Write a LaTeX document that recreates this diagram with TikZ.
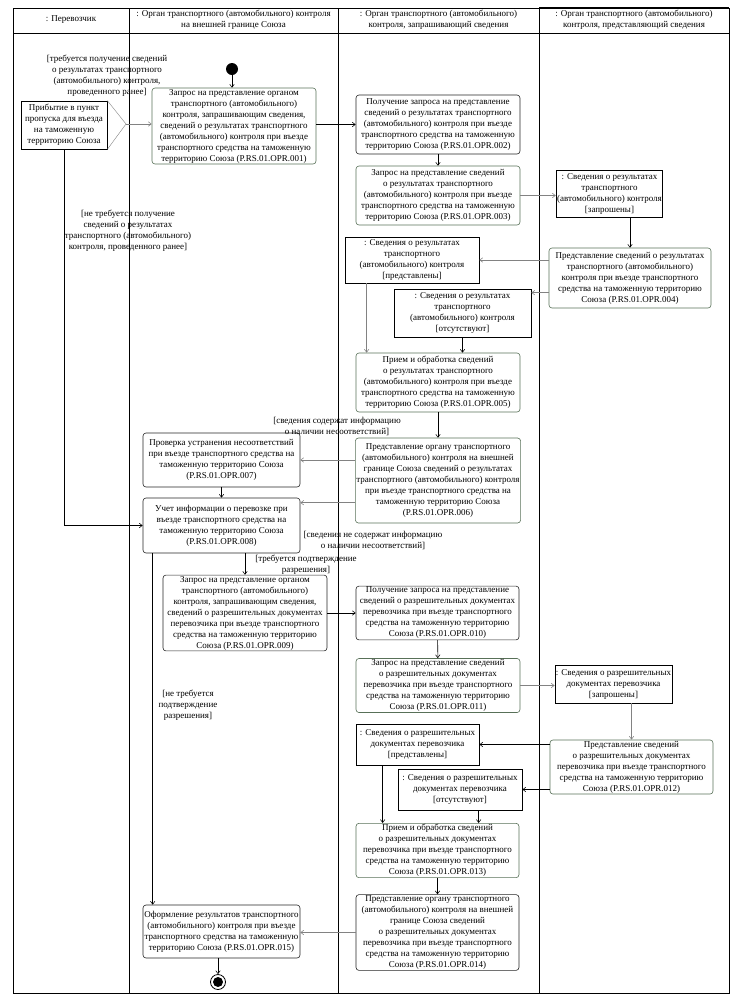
\documentclass[tikz,border=0pt]{standalone}
\usepackage{fontspec}
\setmainfont{Liberation Serif}
\usetikzlibrary{arrows.meta,calc}
\definecolor{grn}{RGB}{88,112,88}
\definecolor{lgr}{RGB}{130,130,130}
\tikzset{
  every node/.style={font=\fontsize{9}{11}\selectfont},
  act/.style={draw=black!85, rounded corners=3pt, align=center, inner sep=1pt, line width=0.6pt},
  actg/.style={act, draw=grn},
  obj/.style={draw, align=center, inner sep=1pt, line width=0.7pt},
  guard/.style={align=center, inner sep=0pt},
  arr/.style={-{Straight Barb[length=3pt,width=4.5pt]}, line width=0.55pt},
  arrg/.style={arr, draw=lgr},
  lane/.style={line width=0.8pt},
}
\begin{document}
\begin{tikzpicture}[x=1pt,y=-1pt]
\useasboundingbox (0,0) rectangle (735,1002);
% swimlanes
\draw[lane] (13,8) rectangle (729,993);
\draw[lane] (13,33) -- (729,33);
\draw[lane] (129,8) -- (129,993);
\draw[lane] (338,8) -- (338,993);
\draw[lane] (539,8) -- (539,993);
\draw[line width=1.8pt] (539,8) -- (729,8);
\node[guard] (h1) at (71,20) {: Перевозчик};
\node[guard] (h2) at (233.5,20) {: Орган транспортного (автомобильного) контроля\\на внешней границе Союза};
\node[guard] (h3) at (438.5,20) {: Орган транспортного (автомобильного)\\контроля, запрашивающий сведения};
\node[guard] (h4) at (634,20) {: Орган транспортного (автомобильного)\\контроля, представляющий сведения};

% initial and final
\node[circle, fill=black, minimum size=12pt, inner sep=0pt] (init) at (232,69) {};
\node[circle, draw, line width=0.8pt, minimum size=15pt, inner sep=0pt] (fin) at (218,982) {};
\node[circle, fill=black, minimum size=10pt, inner sep=0pt] (finc) at (fin) {};

% event
\node[draw, line width=0.7pt, align=center, minimum width=86pt, minimum height=48pt, inner sep=1pt] (ev) at (64,125) {Прибытие в пункт\\пропуска для въезда\\на таможенную\\территорию Союза};
\coordinate (evtip) at (126,124);
\draw[draw=lgr, line width=0.4pt] (ev.north east) -- (evtip) -- (ev.south east);

% activities
\node[actg, minimum width=164pt, minimum height=76pt] (a1) at (234,126) {Запрос на представление органом\\транспортного (автомобильного)\\контроля, запрашивающим сведения,\\сведений о результатах транспортного\\(автомобильного) контроля при въезде\\транспортного средства на таможенную\\территорию Союза (P.RS.01.OPR.001)};
\node[act, minimum width=164pt, minimum height=59pt] (a2) at (438,124.5) {Получение запроса на представление\\сведений о результатах транспортного\\(автомобильного) контроля при въезде\\транспортного средства на таможенную\\территорию Союза (P.RS.01.OPR.002)};
\node[actg, minimum width=164pt, minimum height=59pt] (a3) at (438,195.5) {Запрос на представление сведений\\о результатах транспортного\\(автомобильного) контроля при въезде\\транспортного средства на таможенную\\территорию Союза (P.RS.01.OPR.003)};
\node[obj, minimum width=93pt, minimum height=47pt] (q1) at (609.5,193.5) {: Сведения о результатах\\транспортного\\(автомобильного) контроля\\{[}запрошены{]}};
\node[actg, minimum width=162pt, minimum height=60pt] (a4) at (630,278) {Представление сведений о результатах\\транспортного (автомобильного)\\контроля при въезде транспортного\\средства на таможенную территорию\\Союза (P.RS.01.OPR.004)};
\node[obj, minimum width=134pt, minimum height=46pt] (p1) at (412,260) {: Сведения о результатах\\транспортного\\(автомобильного) контроля\\{[}представлены{]}};
\node[obj, minimum width=137pt, minimum height=48pt] (o1) at (462.5,313) {: Сведения о результатах\\транспортного\\(автомобильного) контроля\\{[}отсутствуют{]}};
\node[actg, minimum width=164pt, minimum height=59pt] (a5) at (438,382.5) {Прием и обработка сведений\\о результатах транспортного\\(автомобильного) контроля при въезде\\транспортного средства на таможенную\\территорию Союза (P.RS.01.OPR.005)};
\node[actg, minimum width=164pt, minimum height=85pt] (a6) at (438,480.5) {Представление органу транспортного\\(автомобильного) контроля на внешней\\границе Союза сведений о результатах\\транспортного (автомобильного) контроля\\при въезде транспортного средства на\\таможенную территорию Союза\\(P.RS.01.OPR.006)};
\node[act, minimum width=157pt, minimum height=54pt] (a7) at (221.5,460) {Проверка устранения несоответствий\\при въезде транспортного средства на\\таможенную территорию Союза\\(P.RS.01.OPR.007)};
\node[act, minimum width=157pt, minimum height=55pt] (a8) at (221.5,525.5) {Учет информации о перевозке при\\въезде транспортного средства на\\таможенную территорию Союза\\(P.RS.01.OPR.008)};
\node[act, minimum width=164pt, minimum height=74pt] (a9) at (245,613) {Запрос на представление органом\\транспортного (автомобильного)\\контроля, запрашивающим сведения,\\сведений о разрешительных документах\\перевозчика при въезде транспортного\\средства на таможенную территорию\\Союза (P.RS.01.OPR.009)};
\node[act, minimum width=163pt, minimum height=52pt] (a10) at (437.5,613) {Получение запроса на представление\\сведений о разрешительных документах\\перевозчика при въезде транспортного\\средства на таможенную территорию\\Союза (P.RS.01.OPR.010)};
\node[actg, minimum width=164pt, minimum height=53pt] (a11) at (438,685.5) {Запрос на представление сведений\\о разрешительных документах\\перевозчика при въезде транспортного\\средства на таможенную территорию\\Союза (P.RS.01.OPR.011)};
\node[obj, minimum width=87pt, minimum height=38pt] (q2) at (613.5,684) {: Сведения о разрешительных\\документах перевозчика\\{[}запрошены{]}};
\node[actg, minimum width=163pt, minimum height=54pt] (a12) at (631.5,767) {Представление сведений\\о разрешительных документах\\перевозчика при въезде транспортного\\средства на таможенную территорию\\Союза (P.RS.01.OPR.012)};
\node[obj, minimum width=123pt, minimum height=41pt] (p2) at (417.5,744.5) {: Сведения о разрешительных\\документах перевозчика\\{[}представлены{]}};
\node[obj, minimum width=124pt, minimum height=41pt] (o2) at (460,789.5) {: Сведения о разрешительных\\документах перевозчика\\{[}отсутствуют{]}};
\node[actg, minimum width=163pt, minimum height=53pt] (a13) at (437.5,850.5) {Прием и обработка сведений\\о разрешительных документах\\перевозчика при въезде транспортного\\средства на таможенную территорию\\Союза (P.RS.01.OPR.013)};
\node[act, minimum width=163pt, minimum height=75pt] (a14) at (437.5,932.5) {Представление органу транспортного\\(автомобильного) контроля на внешней\\границе Союза сведений\\о разрешительных документах\\перевозчика при въезде транспортного\\средства на таможенную территорию\\Союза (P.RS.01.OPR.014)};
\node[act, minimum width=157pt, minimum height=53pt] (a15) at (221.5,931.5) {Оформление результатов транспортного\\(автомобильного) контроля при въезде\\транспортного средства на таможенную\\территорию Союза (P.RS.01.OPR.015)};

% guards
\node[guard] (g1) at (107,76) {{[}требуется получение сведений\\о результатах транспортного\\(автомобильного) контроля,\\проведенного ранее{]}};
\node[guard] (g2) at (128,231) {{[}не требуется получение\\сведений о результатах\\транспортного (автомобильного)\\контроля, проведенного ранее{]}};
\node[guard] (g3) at (337,426) {{[}сведения содержат информацию\\о наличии несоответствий{]}};
\node[guard] (g4) at (373,540) {{[}сведения не содержат информацию\\о наличии несоответствий{]}};
\node[guard] (g5) at (306,564.5) {{[}требуется подтверждение\\разрешения{]}};
\node[guard] (g6) at (188,705) {{[}не требуется\\подтверждение\\разрешения{]}};

% connectors
\draw[arr] (init) -- (init |- a1.north);
\draw[arrg] (evtip) -- (evtip -| a1.west);
\draw[arr] (a2.west -| a1.east) -- (a2.west);
\draw[arr] (a2) -- (a3);
\draw[arrg] (a3.east) -- (a3.east -| q1.west);
\draw[arr] (a4.north |- q1.south) -- (a4.north);
\draw[arrg] (p1.east -| a4.west) -- (p1.east);
\draw[arrg] ([yshift=-4]o1.north east -| a4.west) -- ([yshift=-4]o1.north east);
\draw[arrg] ([xshift=22]p1.south west) -- ([xshift=22]p1.south west |- a5.north);
\draw[arr] (o1.south) -- (o1.south |- a5.north);
\draw[arr] (a5) -- (a6);
\draw[arrg] (a7.east -| a6.west) -- (a7.east);
\draw[arrg] ([yshift=-5]a8.north east -| a6.west) -- ([yshift=-5]a8.north east);
\draw[arr] (a7) -- (a8);
\draw[arr] (ev.south) |- (a8.west);
\draw[arr] (a9.north |- a8.south) -- (a9.north);
\draw[arr] ([xshift=10]a8.south west) -- ([xshift=10]a8.south west |- a15.north);
\draw[arr] (a9) -- (a10);
\draw[arr] (a10) -- (a11);
\draw[arrg] (a11.east) -- (a11.east -| q2.west);
\draw[arrg] (a12.north |- q2.south) -- (a12.north);
\draw[arr] (p2.east -| a12.west) -- (p2.east);
\draw[arr] (o2.east -| a12.west) -- (o2.east);
\draw[arr] ([xshift=27]p2.south west) -- ([xshift=27]p2.south west |- a13.north);
\draw[arr] ([xshift=81]o2.south west) -- ([xshift=81]o2.south west |- a13.north);
\draw[arr] (a13) -- (a14);
\draw[arrg] (a14.west) -- (a14.west -| a15.east);
\draw[arr] (a15.south -| fin) -- (fin.north);
\end{tikzpicture}
\end{document}
